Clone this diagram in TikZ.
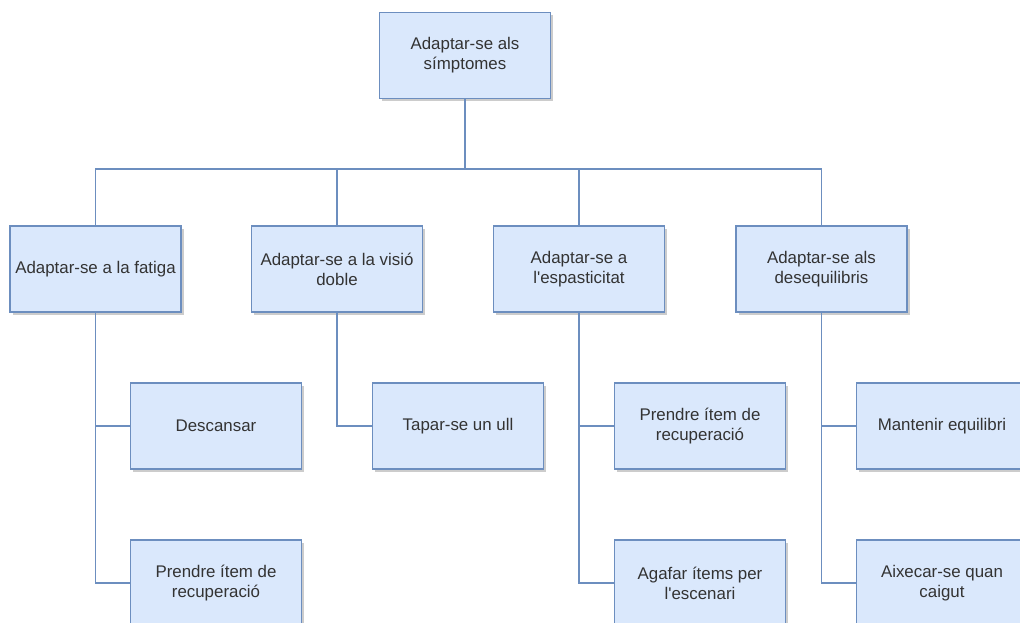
\documentclass[tikz,border=0pt]{standalone}
\usepackage{fontspec}
\setmainfont{Liberation Sans}
\usepackage{tikz}
\usetikzlibrary{shadows}
\definecolor{boxfill}{HTML}{DAE8FC}
\definecolor{boxline}{HTML}{6C8EBF}
\definecolor{boxtext}{HTML}{333333}

\begin{document}
\begin{tikzpicture}[x=0.025cm, y=-0.025cm,
        box/.style={draw=boxline, fill=boxfill, line width=0.8pt, text=boxtext,
            minimum width=4.275cm, minimum height=2.15cm, align=center,
            font=\fontsize{12}{14.3}\selectfont,
            drop shadow={shadow xshift=2pt, shadow yshift=-2pt, opacity=0.2, fill=black}},
        link/.style={draw=boxline, line width=0.8pt}]
        \useasboundingbox (0,0) rectangle (1020,623);
        \clip (0,0) rectangle (1020,623);

        % Root
        \node[box] (root) at (465,55.5) {Adaptar-se als\\símptomes};
        \coordinate (bus) at (465,169);

        % Level 2
        \node[box] (fat) at (95.5,269) {Adaptar-se a la fatiga};
        \node[box] (vis) at (337,269) {Adaptar-se a la visió\\doble};
        \node[box] (esp) at (579,269) {Adaptar-se a\\l\textquotesingle espasticitat};
        \node[box] (desq) at (821.5,269) {Adaptar-se als\\desequilibris};

        % Level 3
        \node[box] (desc) at (216,426) {Descansar};
        \node[box] (itemA) at (216,583) {Prendre ítem de\\recuperació};
        \node[box] (ull) at (458,426) {Tapar-se un ull};
        \node[box] (itemB) at (700,426) {Prendre ítem de\\recuperació};
        \node[box] (escen) at (700,583) {Agafar ítems per\\l\textquotesingle escenari};
        \node[box] (equil) at (942,426) {Mantenir equilibri};
        \node[box] (caigut) at (942,583) {Aixecar-se quan\\caigut};

        % Connectors
        \draw[link] (root.south) -- (bus);
        \draw[link] (fat.north) |- (bus) -| (desq.north);
        \draw[link] (vis.north) -- (vis.north |- bus);
        \draw[link] (esp.north) -- (esp.north |- bus);

        \draw[link] (fat.south) |- (desc.west);
        \draw[link] (fat.south) |- (itemA.west);
        \draw[link] (vis.south) |- (ull.west);
        \draw[link] (esp.south) |- (itemB.west);
        \draw[link] (esp.south) |- (escen.west);
        \draw[link] (desq.south) |- (equil.west);
        \draw[link] (desq.south) |- (caigut.west);

    \end{tikzpicture}
\end{document}
